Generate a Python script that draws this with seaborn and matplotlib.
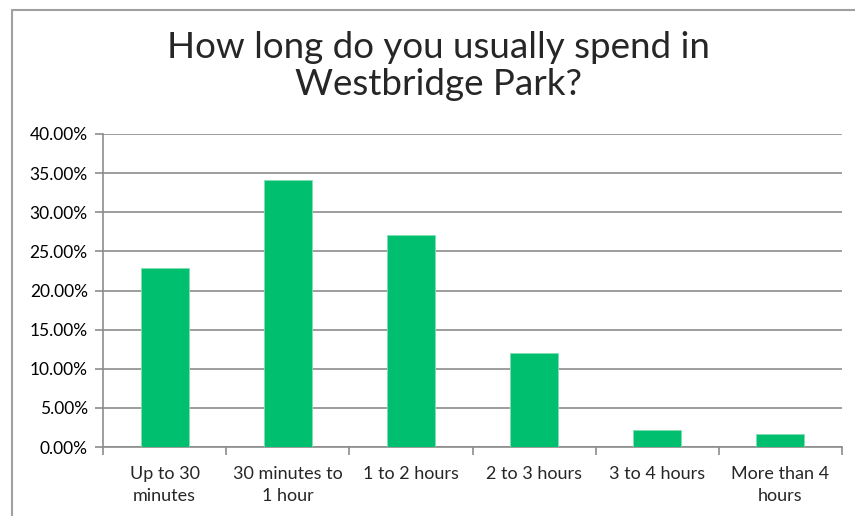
import matplotlib
matplotlib.use("Agg")
import matplotlib.pyplot as plt
import numpy as np
import pandas as pd
import seaborn as sns
from matplotlib.lines import Line2D
from matplotlib.ticker import PercentFormatter

categories = ["Up to 30\nminutes", "30 minutes to\n1 hour", "1 to 2 hours",
              "2 to 3 hours", "3 to 4 hours", "More than 4\nhours"]
shares = [22.9, 34.1, 27.1, 12.0, 2.2, 1.6]
yticks = [0, 5, 10, 15, 20, 25, 30, 35, 40]

df = pd.DataFrame({"cat": categories, "share": shares})

sns.set_style("white")
plt.rcParams['font.family'] = ['Lato', 'DejaVu Sans']

fig = plt.figure(figsize=(8.55, 5.16), dpi=100)
ax = fig.add_axes([103/855, 1 - 447/516, (842-103)/855, (447-134)/516])

sns.barplot(data=df, x="cat", y="share", color="#00BF6F", width=0.39,
            edgecolor="#7FE0B0", linewidth=0.6, saturation=1, ax=ax, zorder=3)

ax.set_ylim(0, 40)
ax.set_xlim(-0.5, len(categories) - 0.5)
ax.set_yticks(yticks)
ax.yaxis.set_major_formatter(PercentFormatter(decimals=2))
ax.grid(axis="y", color="#8C8C8C", linewidth=1.2, zorder=0)
ax.set_axisbelow(True)
ax.set_xlabel("")
ax.set_ylabel("")

for s in ["top", "right"]:
    ax.spines[s].set_visible(False)
for s in ["left", "bottom"]:
    ax.spines[s].set_color("#8C8C8C")
    ax.spines[s].set_linewidth(1.2)

ax.tick_params(axis="y", length=6, color="#8C8C8C", width=1.2, labelsize=12.5,
               labelcolor="black", pad=5, left=True)
ax.tick_params(axis="x", which="major", length=0, labelsize=13, pad=14)
for lab in ax.get_xticklabels():
    lab.set_linespacing(1.45)
ax.set_xticks(np.arange(-0.5, len(categories)), minor=True)
ax.tick_params(axis="x", which="minor", length=6, color="#8C8C8C", width=1.2, bottom=True)

fig.suptitle("How long do you usually spend in\nWestbridge Park?", x=438/855, y=0.94,
             fontsize=26.5, linespacing=1.15)

# outer chart frame
fig.add_artist(Line2D([12/855, 12/855], [0, 1 - 10/516], color="#A0A0A0", linewidth=1.5,
                      transform=fig.transFigure))
fig.add_artist(Line2D([12/855, 1], [1 - 10/516, 1 - 10/516], color="#A0A0A0", linewidth=1.5,
                      transform=fig.transFigure))

fig.savefig("out.png", dpi=100)
